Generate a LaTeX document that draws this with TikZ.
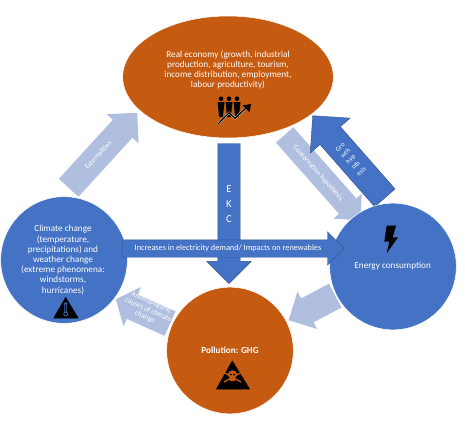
\documentclass[tikz,border=0pt]{standalone}
\usepackage{fontspec}
\setmainfont{Carlito}
\usetikzlibrary{shapes.geometric,shapes.arrows}
\definecolor{rust}{HTML}{C55A11}
\definecolor{royal}{HTML}{4472C4}
\definecolor{pale}{HTML}{B0BEDF}
\tikzset{
  krug/.style={circle,fill=royal,draw=white,line width=0.4pt,inner sep=0pt,minimum size=95pt},
  str/.style={single arrow,anchor=tail,inner sep=0pt,text width=0pt,text depth=0pt,
              single arrow tip angle=90},
  strpale/.style={str,fill=pale},
  strblue/.style={str,fill=royal,draw=royal!70!black,line width=0.3pt},
  natpis/.style={align=center,text=white,inner sep=0pt,font=\fontsize{6.9}{7.65}\selectfont},
  sitno/.style={align=center,text=white,inner sep=0pt,font=\fontsize{5.4}{6}\selectfont},
  znak/.style={fill=black,draw=black,line join=round,line width=0.5pt},
}

\begin{document}
\begin{tikzpicture}[x=0.75pt,y=-0.75pt]
  \useasboundingbox[fill=white] (0,0) rectangle (465,429);

  % ---------- PALE ARROWS ----------
  \node[strpale,rotate=47.6,text height=19.5pt,minimum height=76.2pt,minimum width=32pt,
        single arrow head extend=6.25pt] (extern) at (68.5,188) {};
  \node[strpale,rotate=-48.5,text height=17pt,minimum height=85.5pt,minimum width=28pt,
        single arrow head extend=5.5pt] (conserv) at (284.5,134.7) {};
  \node[strpale,rotate=207.8,text height=19.8pt,minimum height=39.5pt,minimum width=31.2pt,
        single arrow head extend=5.7pt] (enpoll) at (335.5,295.5) {};
  \node[strpale,rotate=155.8,text height=19.7pt,minimum height=44.6pt,minimum width=31.9pt,
        single arrow head extend=6.1pt,single arrow tip angle=100] (anthro) at (170.3,323.7) {};

  % ---------- BLUE ARROW TO THE ELLIPSE ----------
  \node[strblue,rotate=131.3,text height=20pt,minimum height=82pt,minimum width=39.4pt,
        single arrow head extend=9.7pt] (growth) at (385,198) {};

  % ---------- MAIN SHAPES ----------
  \node[ellipse,fill=rust,draw=white,line width=0.4pt,inner sep=0pt,minimum width=158pt,minimum height=91.5pt]
        (economy) at (228,77) {};
  \node[krug] (climate) at (64,260) {};
  \node[krug,fill=rust] (pollution) at (230,350.5) {};
  \node[krug] (energy) at (393,266.5) {};

  % ---------- EKC AND DEMAND ----------
  \node[strblue,rotate=-90,text height=16.5pt,minimum height=105pt,minimum width=33pt,
        single arrow head extend=8.25pt] (ekc) at (229,143.3) {};
  \node[strblue,text height=12.75pt,minimum height=166.5pt,minimum width=24.75pt,
        single arrow head extend=6pt] (demand) at (122,248.5) {};

  % ---------- TEXTS ----------
  \node[natpis] (economytxt) at (228,70)
       {Real economy (growth, industrial\\production, agriculture, tourism,\\income distribution, employment,\\labour productivity)};
  \node[natpis] (climatetxt) at (63,260)
       {Climate change\\(temperature,\\precipitations) and\\weather change\\(extreme phenomena:\\windstorms,\\hurricanes)};
  \node[natpis] (energytxt) at (392.7,266) {Energy consumption};
  \node[natpis,font=\fontsize{6.9}{7.65}\selectfont\bfseries] (pollutiontxt) at (230,350) {Pollution: GHG};
  \node[natpis,font=\fontsize{8}{11.2}\selectfont] (ekctxt) at (229,204) {E\\K\\C};
  \node[natpis,font=\fontsize{6.2}{7}\selectfont] (demandtxt) at (228,248.5) {Increases in electricity demand/ Impacts on renewables};
  \node[sitno,rotate=47.6] (externtxt) at (98,155) {Externalities};
  \node[sitno,rotate=-48.5] (conservtxt) at (318,173) {Conservation hypothesis};
  \node[sitno,rotate=-24.2] (anthrotxt) at (148.3,310)
       {Anthropogenic\\causes of climate\\change};
  \node[sitno,rotate=41.3,font=\fontsize{5}{6}\selectfont] (growthtxt) at (350.7,159.3)
       {Gro\\wth\\hyp\\oth\\esis};

  % ---------- ICONS ----------
  % people with the rising line
  \foreach \px in {221,229,237}{
    \fill[black] (\px,98.7) circle (2.3);
    \fill[black] (\px-3.5,102) -- (\px+3.5,102) -- (\px+2.6,110) -- (\px+1.8,117) -- (\px-1.8,117) -- (\px-2.6,110) -- cycle;
  }
  \draw[white,line width=1.5pt] (217.7,124.3) -- (229,112.7) -- (235,118.3) -- (247,107);
  \draw[black,line width=1pt] (217.7,124.3) -- (229,112.7) -- (235,118.3) -- (247,107);
  \fill[black] (251,104) -- (249.5,112) -- (242.5,105.5) -- cycle;
  % bolt
  \fill[black] (386.7,225.7) -- (396,225.7) -- (392.7,237.3) -- (398,237.3) -- (386.7,253.3)
               -- (389.3,241.7) -- (384.3,241.7) -- cycle;
  % thermometer
  \draw[znak] (65.7,297.5) -- (53.8,318) -- (78,318) -- cycle;
  \draw[royal,line width=0.5pt] (64.7,312) -- (64.7,303) arc (180:0:1) -- (66.7,312);
  \draw[royal,line width=0.5pt] (65.7,314) circle (2);
  % skull
  \draw[znak] (232.3,361) -- (216.5,389) -- (249.5,389) -- cycle;
  \draw[rust,line width=1pt] (224,382) -- (241,372.5);
  \draw[rust,line width=1pt] (224,372.5) -- (241,382);
  \fill[rust] (232.5,374.5) ellipse (4.6 and 4.2);
  \fill[rust] (230,377) rectangle (235,381);
  \fill[black] (230.8,374.5) circle (1);
  \fill[black] (234.2,374.5) circle (1);

\end{tikzpicture}
\end{document}
